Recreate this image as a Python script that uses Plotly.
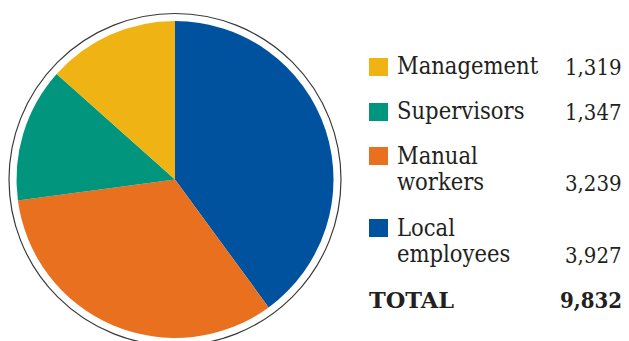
import plotly.graph_objects as go

# Data
categories = ["Local employees", "Manual workers", "Supervisors", "Management"]
values = [3927, 3239, 1347, 1319]
colors = ["#00529F", "#E8701F", "#00957C", "#EFB413"]

legend_order = ["Management", "Supervisors", "Manual workers", "Local employees"]
legend_lines = {
    "Management": ["Management"],
    "Supervisors": ["Supervisors"],
    "Manual workers": ["Manual", "workers"],
    "Local employees": ["Local", "employees"],
}
total_label = "TOTAL"

W, H = 629, 341
cx, cy, r = 175, 179.5, 158.5
ring_r = 166

def px(x):
    return x / W

def py(y):
    return 1 - y / H

fig = go.Figure()
fig.add_trace(go.Pie(
    labels=categories, values=values, sort=False, direction="clockwise",
    rotation=0, textinfo="none", hoverinfo="label+value",
    marker=dict(colors=colors, line=dict(width=0)),
    domain=dict(x=[px(cx - r), px(cx + r)], y=[py(cy + r), py(cy - r)]),
    showlegend=False,
))

shapes = [dict(type="circle", xref="paper", yref="paper",
               x0=px(cx - ring_r), x1=px(cx + ring_r),
               y0=py(cy + ring_r), y1=py(cy - ring_r),
               line=dict(color="#3a3a3a", width=1.2), layer="above")]

cond = "DejaVu Serif Condensed, DejaVu Serif, serif"
wide = "DejaVu Serif, serif"
fs = 23.5
txt_col = "#231f20"
annotations = []

sq_tops = [58, 103, 147, 219]
first_baselines = [76, 121, 166, 238]
line_gap = 26
num_x = 624
label_x = 395

def add_text(text, x, baseline, anchor="left", bold=False, family=cond, size=fs):
    annotations.append(dict(
        text=f"<b>{text}</b>" if bold else text,
        xref="paper", yref="paper", x=px(x), y=py(baseline + 0.27 * size),
        xanchor=anchor, yanchor="bottom", showarrow=False,
        font=dict(family=family, size=size, color=txt_col),
    ))

for i, name in enumerate(legend_order):
    idx = categories.index(name)
    top = sq_tops[i]
    shapes.append(dict(type="rect", xref="paper", yref="paper",
                       x0=px(369), x1=px(388), y0=py(top + 18), y1=py(top),
                       fillcolor=colors[idx], line=dict(width=0)))
    lines = legend_lines[name]
    b = first_baselines[i]
    for j, ln in enumerate(lines):
        add_text(ln, label_x, b + j * line_gap)
    add_text(f"{values[idx]:,}", num_x, b + (len(lines) - 1) * line_gap,
             anchor="right", size=22)

add_text(total_label, 367, 309, bold=True, family=wide, size=22.5)
add_text(f"{sum(values):,}", num_x, 309, anchor="right", bold=True, size=22)

fig.update_layout(
    width=W, height=H, margin=dict(l=0, r=0, t=0, b=0),
    paper_bgcolor="white", plot_bgcolor="white",
    shapes=shapes, annotations=annotations,
)
fig.write_html("out.html")
